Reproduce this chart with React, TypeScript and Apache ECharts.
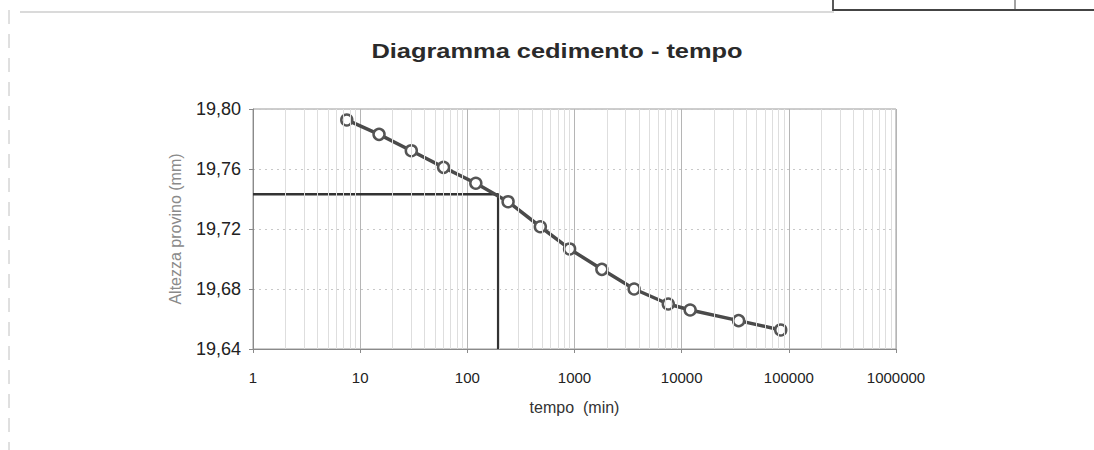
import React, { useEffect, useRef } from "react";
import * as echarts from "echarts";

// Data
const times = [7.5, 15, 30, 60, 120, 240, 480, 900, 1800, 3600, 7500, 12000, 34000, 84000];
const heights = [19.7927, 19.7831, 19.7722, 19.7611, 19.7505, 19.7382, 19.7215, 19.7067, 19.6931, 19.68, 19.670, 19.666, 19.6589, 19.6527];
const refX = [1, 194, 194];
const refY = [19.7431, 19.7431, 19.64];
const minorGrid = [2, 3, 4, 5, 6, 7, 8, 9, 20, 30, 40, 50, 60, 70, 80, 90, 200, 300, 400, 500, 600, 700, 800, 900,
  2000, 3000, 4000, 5000, 6000, 7000, 8000, 9000, 20000, 30000, 40000, 50000, 60000, 70000, 80000, 90000,
  200000, 300000, 400000, 500000, 600000, 700000, 800000, 900000];
const titleText = "Diagramma cedimento - tempo";
const xName = "tempo  (min)";
const yName = "Altezza provino (mm)";

export default function App() {
  const ref = useRef<HTMLDivElement>(null);
  useEffect(() => {
    if (!ref.current) return;
    const chart = echarts.init(ref.current, null, { renderer: "svg" });
    const font = "'Liberation Sans', Arial, sans-serif";
    chart.setOption({
      animation: false,
      backgroundColor: "#ffffff",
      textStyle: { fontFamily: font },
      grid: { left: 253, right: 198, top: 109, bottom: 101, show: true, borderColor: "#9a9a9a", borderWidth: 1 },
      graphic: [
        {
          type: "text", x: 557, y: 51, scaleX: 1.27,
          style: { text: titleText, font: "bold 20px 'Liberation Sans', Arial, sans-serif", fill: "#2a2a2a", align: "center", verticalAlign: "middle" },
        },
        { type: "line", shape: { x1: 20, y1: 12, x2: 834, y2: 12 }, style: { stroke: "#b5b5b5", lineWidth: 1 } },
        { type: "line", shape: { x1: 9, y1: 10, x2: 9, y2: 450 }, style: { stroke: "#c0c0c0", lineWidth: 1, lineDash: [14, 10] } },
        { type: "line", shape: { x1: 833, y1: 0, x2: 833, y2: 11 }, style: { stroke: "#222", lineWidth: 1.5 } },
        { type: "line", shape: { x1: 833, y1: 10, x2: 1094, y2: 10 }, style: { stroke: "#444", lineWidth: 2 } },
        { type: "line", shape: { x1: 1015, y1: 0, x2: 1015, y2: 10 }, style: { stroke: "#444", lineWidth: 1 } },
      ],
      xAxis: {
        type: "log", logBase: 10, min: 1, max: 1000000, splitNumber: 6,
        name: xName, nameLocation: "middle", nameGap: 50,
        nameTextStyle: { fontSize: 16, color: "#333", fontFamily: font },
        axisLine: { lineStyle: { color: "#8a8a8a" } },
        axisTick: { show: true, length: 4, lineStyle: { color: "#8a8a8a" } },
        axisLabel: { fontSize: 15, color: "#222", margin: 21, formatter: (v: number) => String(Math.round(v)) },
        splitLine: { show: true, lineStyle: { color: "#b5b5b5", width: 1 } },
      },
      yAxis: {
        type: "value", min: 19.64, max: 19.8, interval: 0.04,
        name: yName, nameLocation: "middle", nameGap: 70, nameRotate: 90,
        nameTextStyle: { fontSize: 16, color: "#8a8a8a", fontFamily: font },
        axisLine: { show: true, lineStyle: { color: "#8a8a8a" } },
        axisTick: { show: true, length: 4, lineStyle: { color: "#8a8a8a" } },
        axisLabel: { fontSize: 18, color: "#222", margin: 12, formatter: (v: number) => v.toFixed(2).replace(".", ",") },
        splitLine: { show: true, lineStyle: { color: "#c8c8c8", type: [2, 4] } },
      },
      series: [
        {
          type: "line", data: [], silent: true,
          markLine: {
            silent: true, symbol: "none", label: { show: false },
            lineStyle: { color: "#dedede", width: 1, type: "solid" },
            data: minorGrid.map((v) => ({ xAxis: v })),
          },
        },
        {
          type: "line", data: refX.map((x, i) => [x, refY[i]]), showSymbol: false, symbol: "none",
          lineStyle: { color: "#333", width: 2.5 }, z: 3,
        },
        {
          type: "line", data: times.map((t, i) => [t, heights[i]]),
          symbol: "circle", symbolSize: 11, showSymbol: true,
          lineStyle: { color: "#4a4a4a", width: 3.5 },
          itemStyle: { color: "#ffffff", borderColor: "#555", borderWidth: 2.5 }, z: 4,
        },
      ],
    });
    return () => chart.dispose();
  }, []);
  return <div ref={ref} style={{ position: "fixed", left: 0, top: 0, width: 1094, height: 450 }} />;
}
